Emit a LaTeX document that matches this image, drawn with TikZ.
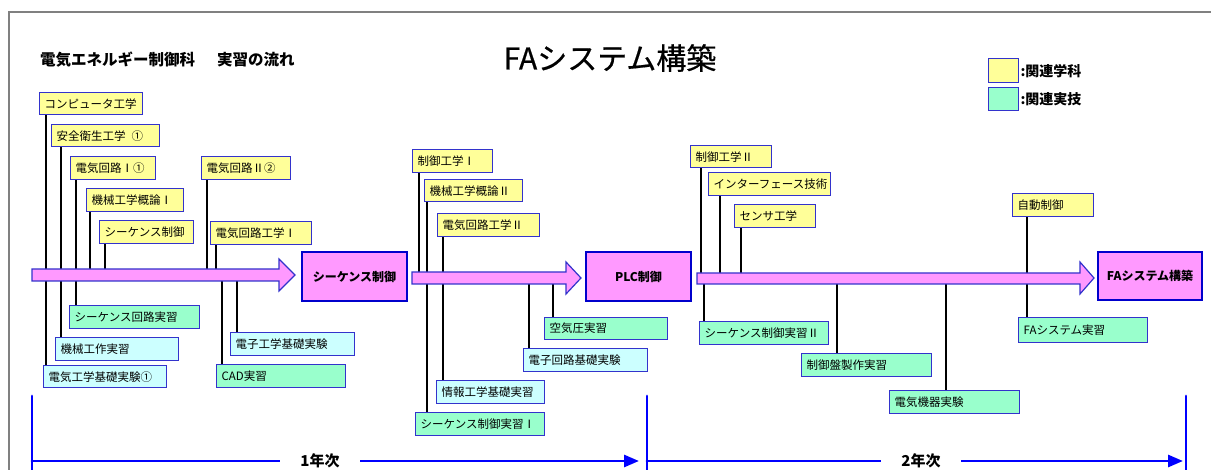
\documentclass[tikz,border=0pt]{standalone}
\usepackage{fontspec}
\setmainfont{Noto Sans CJK JP}
\newfontfamily\titlefont[FakeBold=0.6]{Noto Sans CJK JP}
\usetikzlibrary{arrows.meta}
\definecolor{subjc}{HTML}{FFFF99}
\definecolor{pracc}{HTML}{99FFCC}
\definecolor{exptc}{HTML}{CCFFFF}
\definecolor{flowc}{HTML}{FF99FF}
\definecolor{edgec}{HTML}{3333CC}
\definecolor{goalc}{HTML}{0000CC}
\definecolor{axisc}{HTML}{0000FF}
\definecolor{framec}{HTML}{808080}
\newcommand\labbox[7]{%
  \pgfmathsetmacro\lbH{#6-#4}%
  \pgfmathsetmacro\lbT{#5-#3-10}%
  \node[#1, anchor=north west, minimum height=\lbH pt, text width=\lbT pt] (#2) at (#3,#4) {\mbox{#7}};}
\tikzset{
  box/.style={draw=edgec, line width=1.3pt, inner xsep=5pt, inner ysep=0pt, align=left,
    font=\fontsize{11.5}{13}\selectfont, text=black},
  subjbox/.style={box, fill=subjc},
  pracbox/.style={box, fill=pracc},
  exptbox/.style={box, fill=exptc},
  goalbox/.style={draw=goalc, line width=2.4pt, fill=flowc, inner sep=0pt,
    font=\bfseries\fontsize{12}{14}\selectfont},
  flowpath/.style={draw=edgec, line width=1.2pt, fill=flowc, line join=miter},
  conn/.style={draw=black, line width=2.6pt},
  axisline/.style={draw=axisc, line width=2.8pt, line cap=round},
  yearlab/.style={fill=white, inner xsep=20pt, inner ysep=2pt, font=\bfseries\fontsize{15}{17}\selectfont},
  legtext/.style={anchor=west, inner sep=0pt, font=\bfseries\fontsize{14}{16}\selectfont}
}
\begin{document}
\begin{tikzpicture}[x=1pt,y=-1pt]
\useasboundingbox (0,0) rectangle (1211,470);
\draw[framec, line width=1.5pt] (9,470) -- (9,12) -- (1211,12);

% headings
\node[anchor=west, inner sep=0pt, font=\bfseries\fontsize{15.5}{18}\selectfont] (sub) at (40,60) {電気エネルギー制御科\hspace{22pt}実習の流れ};
\node[inner sep=0pt, font=\titlefont\fontsize{30}{36}\selectfont] (title) at (610,58) {FAシステム構築};

% legend
\node[subjbox, anchor=north west, minimum width=30pt, minimum height=24pt] (legS) at (988,58) {};
\node[pracbox, anchor=north west, minimum width=30pt, minimum height=23pt] (legP) at (988,87) {};
\node[legtext] (legSt) at ([xshift=1pt]legS.east) {:関連学科};
\node[legtext] (legPt) at ([xshift=1pt]legP.east) {:関連実技};

% boxes: subjects
\labbox{subjbox}{k1}{39}{92}{142}{114}{コンピュータ工学}
\labbox{subjbox}{k2}{51}{124}{159}{146}{安全衛生工学\hspace{6pt}①}
\labbox{subjbox}{k3}{70}{156}{155}{179}{電気回路Ⅰ①}
\labbox{subjbox}{k4}{86}{188}{183}{211}{機械工学概論Ⅰ}
\labbox{subjbox}{k5}{99}{220}{193}{243}{シーケンス制御}
\labbox{subjbox}{k6}{201}{156}{290}{179}{電気回路Ⅱ②}
\labbox{subjbox}{k7}{210}{221}{311}{244}{電気回路工学Ⅰ}
\labbox{subjbox}{m1}{412}{149}{492}{172}{制御工学Ⅰ}
\labbox{subjbox}{m2}{424}{179}{522}{201}{機械工学概論Ⅱ}
\labbox{subjbox}{m3}{437}{213}{539}{236}{電気回路工学Ⅱ}
\labbox{subjbox}{r1}{690}{145}{771}{167}{制御工学Ⅱ}
\labbox{subjbox}{r2}{708}{172}{830}{195}{インターフェース技術}
\labbox{subjbox}{r3}{734}{204}{815}{227}{センサ工学}
\labbox{subjbox}{r4}{1012}{193}{1093}{216}{自動制御}
% practice
\labbox{pracbox}{g1}{69}{305}{199}{328}{シーケンス回路実習}
\labbox{pracbox}{g2}{216}{364}{345}{387}{CAD実習}
\labbox{pracbox}{g3}{544}{317}{667}{339}{空気圧実習}
\labbox{pracbox}{g4}{415}{412}{544}{435}{シーケンス制御実習Ⅰ}
\labbox{pracbox}{g5}{699}{321}{828}{344}{シーケンス制御実習Ⅱ}
\labbox{pracbox}{g6}{801}{353}{931}{376}{制御盤製作実習}
\labbox{pracbox}{g7}{889}{390}{1019}{413}{電気機器実験}
\labbox{pracbox}{g8}{1018}{317}{1147}{342}{FAシステム実習}
% experiments
\labbox{exptbox}{c1}{55}{337}{178}{360}{機械工作実習}
\labbox{exptbox}{c2}{43}{365}{166}{387}{電気工学基礎実験①}
\labbox{exptbox}{c3}{230}{332}{354}{355}{電子工学基礎実験}
\labbox{exptbox}{c4}{523}{348}{647}{371}{電子回路基礎実験}
\labbox{exptbox}{c5}{436}{380}{544}{403}{情報工学基礎実習}

% arrow centre lines
\coordinate (a1) at (32,275);
\coordinate (a2) at (412,278);
\coordinate (a3) at (697,278.5);

% connectors
\draw[conn] (k1.south -| 46,0) -- (c2.north -| 46,0);
\draw[conn] (k2.south -| 61,0) -- (c1.north -| 61,0);
\draw[conn] (k3.south -| 76,0) -- (g1.north -| 76,0);
\draw[conn] (k4.south -| 90,0) -- (a1 -| 90,0);
\draw[conn] (k5.south -| 105,0) -- (a1 -| 105,0);
\draw[conn] (k6.south -| 207,0) -- (a1 -| 207,0);
\draw[conn] (k7.south -| 216,0) -- (a1 -| 216,0);
\draw[conn] (a1 -| 222,0) -- (g2.north -| 222,0);
\draw[conn] (a1 -| 237,0) -- (c3.north -| 237,0);
\draw[conn] (m1.south -| 419,0) -- (a2 -| 419,0);
\draw[conn] (m2.south -| 427,0) -- (g4.north -| 427,0);
\draw[conn] (m3.south -| 443,0) -- (c5.north -| 443,0);
\draw[conn] (a2 -| 529,0) -- (c4.north -| 529,0);
\draw[conn] (a2 -| 553,0) -- (g3.north -| 553,0);
\draw[conn] (r1.south -| 701,0) -- (a3 -| 701,0);
\draw[conn] (r2.south -| 720,0) -- (a3 -| 720,0);
\draw[conn] (r3.south -| 741,0) -- (a3 -| 741,0);
\draw[conn] (a3 -| 704,0) -- (g5.north -| 704,0);
\draw[conn] (a3 -| 837,0) -- (g6.north -| 837,0);
\draw[conn] (a3 -| 946,0) -- (g7.north -| 946,0);
\draw[conn] (r4.south -| 1027,0) -- (g8.north -| 1027,0);

% flow arrows
\draw[flowpath] (32,269) -- (279,269) -- (279,259) -- (295,275) -- (279,291) -- (279,281) -- (32,281) -- cycle;
\draw[flowpath] (412,272) -- (566,272) -- (566,262) -- (581,278) -- (566,294) -- (566,284) -- (412,284) -- cycle;
\draw[flowpath] (697,273) -- (1080,273) -- (1080,262) -- (1094,278) -- (1080,294) -- (1080,284) -- (697,284) -- cycle;

% goals
\node[goalbox, minimum width=105pt, minimum height=49pt] (s1) at (354.5,276.5) {シーケンス制御};
\node[goalbox, minimum width=105pt, minimum height=49pt] (s2) at (638.5,276.5) {PLC制御};
\node[goalbox, minimum width=104pt, minimum height=48pt] (s3) at (1150,276) {FAシステム構築};

% time axis
\coordinate (t0) at (32,396);
\coordinate (t0b) at (32,470);
\coordinate (t1) at (647,396);
\coordinate (t1b) at (647,470);
\coordinate (t2) at (1186,396);
\coordinate (t2b) at (1186,470);
\coordinate (h0) at (32,461);
\coordinate (h1) at (639,461);
\coordinate (h2) at (647,461);
\coordinate (h3) at (1183,461);
\draw[axisline] (t0) -- (t0b);
\draw[axisline] (t1) -- (t1b);
\draw[axisline] (t2) -- (t2b);
\draw[axisline, -{Triangle[length=15pt,width=12pt]}] (h0) -- (h1);
\draw[axisline, -{Triangle[length=15pt,width=12pt]}] (h2) -- (h3);
\node[yearlab] (y1) at (320,461) {1年次};
\node[yearlab] (y2) at (921,461) {2年次};
\end{tikzpicture}
\end{document}
